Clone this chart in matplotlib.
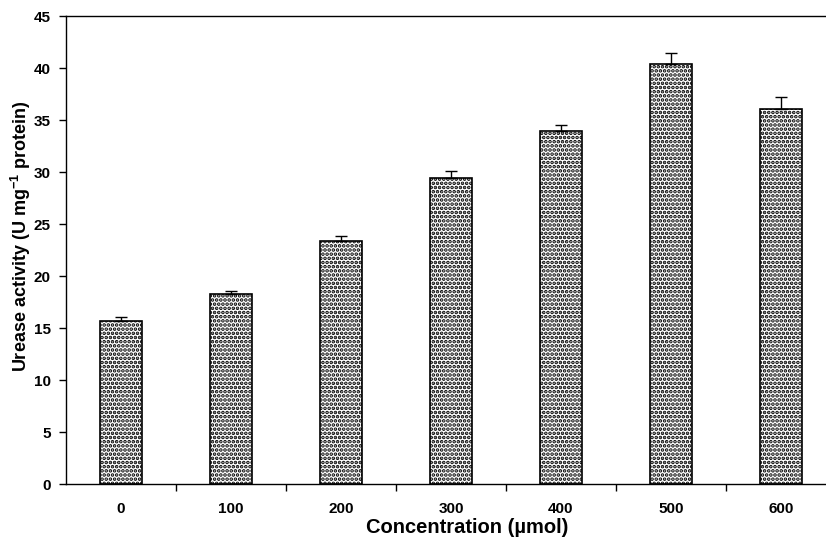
import matplotlib
matplotlib.use("Agg")
import matplotlib.pyplot as plt
import numpy as np

categories = ["0", "100", "200", "300", "400", "500", "600"]
values = [15.7, 18.3, 23.4, 29.45, 33.95, 40.4, 36.1]
errors = [0.4, 0.3, 0.4, 0.6, 0.55, 1.0, 1.1]
y_ticks = [0, 5, 10, 15, 20, 25, 30, 35, 40, 45]

plt.rcParams['font.family'] = ['Liberation Sans', 'DejaVu Sans']
plt.rcParams['font.weight'] = 'bold'
plt.rcParams['mathtext.fontset'] = 'custom'
plt.rcParams['mathtext.rm'] = 'Liberation Sans:bold'
plt.rcParams['mathtext.bf'] = 'Liberation Sans:bold'
plt.rcParams['mathtext.it'] = 'Liberation Sans:bold'
plt.rcParams['hatch.linewidth'] = 1.8

W, H = 826, 544
fig = plt.figure(figsize=(W / 100, H / 100), dpi=100)
ax = fig.add_axes([66 / W, (H - 484) / H, 770 / W, 468 / H])

x = np.arange(len(categories))
ax.bar(x, values, width=0.39, color='white', edgecolor='black', hatch='....',
       linewidth=1.2, zorder=2)
ax.errorbar(x, values, yerr=[np.zeros(len(errors)), errors], fmt='none',
            ecolor='black', elinewidth=1.0, capsize=4, capthick=1.0, zorder=3)

ax.set_xlim(-0.5, len(categories) - 0.5)
ax.set_ylim(0, 45)
ax.set_yticks(y_ticks)
ax.set_yticklabels([str(t) for t in y_ticks], fontsize=11, fontweight='bold')
ax.set_xticks(x)
ax.set_xticklabels(categories, fontsize=11, fontweight='bold')
ax.tick_params(axis='x', which='major', length=0, pad=13)
ax.set_xticks(np.arange(0.5, len(categories) - 0.5, 1.0), minor=True)
ax.tick_params(axis='x', which='minor', length=5, direction='out', width=1.0)
ax.tick_params(axis='y', length=5, direction='out', width=1.0, pad=6)

for s in ['left', 'bottom', 'top']:
    ax.spines[s].set_linewidth(1.0)
ax.spines['right'].set_visible(False)

ax.set_xlabel("Concentration (µmol)", fontsize=14.5, fontweight='bold')
ax.set_ylabel(r"Urease activity (U mg$^{-1}$ protein)", fontsize=13,
              fontweight='bold')
ax.xaxis.set_label_coords(0.5 * 770 / 770 - (66 + 385 - 467) / 770, -0.073)
ax.yaxis.set_label_coords(-0.043, 0.53)

fig.savefig("out.png", dpi=100)
